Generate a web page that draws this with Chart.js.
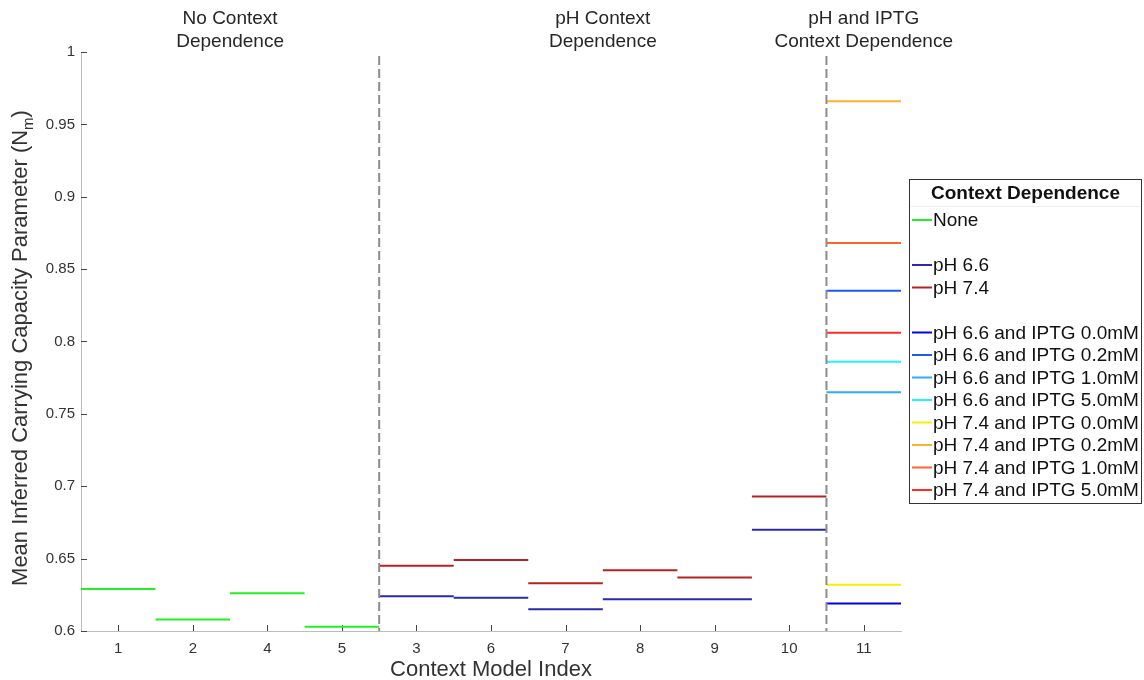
<!DOCTYPE html>
<html>
<head>
<meta charset="utf-8">
<script src="https://cdn.jsdelivr.net/npm/chart.js@4.4.0/dist/chart.umd.min.js"></script>
<style>
  html, body { margin: 0; padding: 0; background: #fff; }
  #wrap { width: 1144px; height: 680px; }
</style>
</head>
<body>
<div id="wrap"><canvas id="mycanvas" width="1144" height="680"></canvas></div>
<script>
// categories along the x axis, in plotted order
var categories = ['1', '2', '4', '5', '3', '6', '7', '8', '9', '10', '11'];

// groups of categories (size in categories) and their headings
var groupSizes = [4, 6, 1];
var groupTitles = [
  ['No Context', 'Dependence'],
  ['pH Context', 'Dependence'],
  ['pH and IPTG', 'Context Dependence']
];

var yTicks = [0.6, 0.65, 0.7, 0.75, 0.8, 0.85, 0.9, 0.95, 1];

// series values, one per category (null = not present)
var none      = [0.629, 0.608, 0.626, 0.603, null, null, null, null, null, null, null];
var ph66      = [null, null, null, null, 0.624, 0.623, 0.615, 0.622, 0.622, 0.670, null];
var ph74      = [null, null, null, null, 0.645, 0.649, 0.633, 0.642, 0.637, 0.693, null];
var ph66iptg0 = [null, null, null, null, null, null, null, null, null, null, 0.619];
var ph66iptg2 = [null, null, null, null, null, null, null, null, null, null, 0.835];
var ph66iptg10 = [null, null, null, null, null, null, null, null, null, null, 0.765];
var ph66iptg50 = [null, null, null, null, null, null, null, null, null, null, 0.786];
var ph74iptg0 = [null, null, null, null, null, null, null, null, null, null, 0.632];
var ph74iptg2 = [null, null, null, null, null, null, null, null, null, null, 0.966];
var ph74iptg10 = [null, null, null, null, null, null, null, null, null, null, 0.868];
var ph74iptg50 = [null, null, null, null, null, null, null, null, null, null, 0.806];

var seriesNames = ['None', 'pH 6.6', 'pH 7.4',
  'pH 6.6 and IPTG 0.0mM', 'pH 6.6 and IPTG 0.2mM', 'pH 6.6 and IPTG 1.0mM', 'pH 6.6 and IPTG 5.0mM',
  'pH 7.4 and IPTG 0.0mM', 'pH 7.4 and IPTG 0.2mM', 'pH 7.4 and IPTG 1.0mM', 'pH 7.4 and IPTG 5.0mM'];
var seriesValues = [none, ph66, ph74, ph66iptg0, ph66iptg2, ph66iptg10, ph66iptg50,
  ph74iptg0, ph74iptg2, ph74iptg10, ph74iptg50];
var seriesColors = ['#22f022', '#2a2aaa', '#b52222',
  '#0000f0', '#1c5cf0', '#30a8f8', '#20f4f4',
  '#f4f000', '#ffb030', '#ff6428', '#ff2a2a'];
// legend rows: index into series, or -1 for a blank row
var legendRows = [0, -1, 1, 2, -1, 3, 4, 5, 6, 7, 8, 9, 10];

var FONT = "'Liberation Sans', Arial, Helvetica, sans-serif";
Chart.defaults.font.family = FONT;
Chart.defaults.color = '#333';

// each value becomes a flat segment across its category
function segments(values) {
  var pts = [];
  for (var i = 0; i < values.length; i++) {
    if (values[i] === null) continue;
    var c = i + 1;
    pts.push({x: c - 0.5, y: values[i]});
    pts.push({x: c + 0.5, y: values[i]});
    pts.push({x: c + 0.5, y: null});
  }
  return pts;
}

var datasets = [];
for (var s = 0; s < seriesNames.length; s++) {
  datasets.push({
    label: seriesNames[s],
    data: segments(seriesValues[s]),
    borderColor: seriesColors[s],
    backgroundColor: seriesColors[s],
    borderWidth: 2,
    pointRadius: 0,
    spanGaps: false,
    tension: 0
  });
}

var decorations = {
  id: 'decorations',
  beforeDatasetsDraw: function(chart) {
    var ctx = chart.ctx, a = chart.chartArea;
    var xs = chart.scales.x, ys = chart.scales.y;
    ctx.save();
    // inward tick marks
    ctx.strokeStyle = '#444';
    ctx.lineWidth = 1;
    ctx.beginPath();
    yTicks.forEach(function(v) {
      var y = Math.round(ys.getPixelForValue(v)) + 0.5;
      ctx.moveTo(a.left, y); ctx.lineTo(a.left + 6, y);
    });
    categories.forEach(function(c, i) {
      var x = Math.round(xs.getPixelForValue(i + 1)) + 0.5;
      ctx.moveTo(x, a.bottom); ctx.lineTo(x, a.bottom - 6);
    });
    ctx.stroke();
    ctx.restore();
  },
  afterDatasetsDraw: function(chart) {
    var ctx = chart.ctx, a = chart.chartArea;
    var xs = chart.scales.x;
    ctx.save();
    // dashed separators between groups
    ctx.strokeStyle = '#8c8c8c';
    ctx.lineWidth = 2;
    ctx.setLineDash([9, 4]);
    var start = 0.5;
    for (var g = 0; g < groupSizes.length; g++) {
      var end = start + groupSizes[g];
      if (g < groupSizes.length - 1) {
        var x = xs.getPixelForValue(end);
        ctx.beginPath();
        ctx.moveTo(x, a.top + 4);
        ctx.lineTo(x, a.bottom);
        ctx.stroke();
      }
      // group heading
      var cx = xs.getPixelForValue((start + end) / 2);
      ctx.fillStyle = '#262626';
      ctx.font = '19px ' + FONT;
      ctx.textAlign = 'center';
      ctx.textBaseline = 'middle';
      ctx.fillText(groupTitles[g][0], cx, 19);
      ctx.fillText(groupTitles[g][1], cx, 42);
      start = end;
    }
    ctx.setLineDash([]);

    // x axis title
    ctx.fillStyle = '#333';
    ctx.font = '22px ' + FONT;
    ctx.textAlign = 'center';
    ctx.fillText('Context Model Index', (a.left + a.right) / 2, 670);

    // y axis title with subscript
    ctx.translate(21, 348);
    ctx.rotate(-Math.PI / 2);
    var main = 'Mean Inferred Carrying Capacity Parameter (N';
    ctx.font = '22px ' + FONT;
    var w1 = ctx.measureText(main).width;
    ctx.font = '15px ' + FONT;
    var w2 = ctx.measureText('m').width;
    ctx.font = '22px ' + FONT;
    var w3 = ctx.measureText(')').width;
    var x0 = -(w1 + w2 + w3) / 2;
    ctx.textAlign = 'left';
    ctx.fillText(main, x0, 0);
    ctx.font = '15px ' + FONT;
    ctx.fillText('m', x0 + w1, 8);
    ctx.font = '22px ' + FONT;
    ctx.fillText(')', x0 + w1 + w2, 0);
    ctx.restore();

    // legend box
    ctx.save();
    var lx = 909.5, ly = 179.5, lw = 232, lh = 324;
    ctx.fillStyle = '#fff';
    ctx.fillRect(lx, ly, lw, lh);
    ctx.strokeStyle = '#333';
    ctx.lineWidth = 1;
    ctx.strokeRect(lx, ly, lw, lh);
    ctx.fillStyle = '#111';
    ctx.font = 'bold 19px ' + FONT;
    ctx.textAlign = 'center';
    ctx.textBaseline = 'middle';
    ctx.fillText('Context Dependence', lx + lw / 2, 194);
    ctx.strokeStyle = '#eeeeee';
    ctx.beginPath();
    ctx.moveTo(lx + 1, 206.5); ctx.lineTo(lx + lw - 1, 206.5);
    ctx.stroke();
    ctx.font = '19px ' + FONT;
    ctx.textAlign = 'left';
    legendRows.forEach(function(si, r) {
      if (si < 0) return;
      var y = 220 + r * 22.5;
      ctx.strokeStyle = seriesColors[si];
      ctx.lineWidth = 2;
      ctx.beginPath();
      ctx.moveTo(912, y); ctx.lineTo(932, y);
      ctx.stroke();
      ctx.fillStyle = '#111';
      ctx.fillText(seriesNames[si], 933, y + 1);
    });
    ctx.restore();
  }
};

var ctx = document.getElementById('mycanvas');
var chart = new Chart(ctx, {
  type: 'line',
  data: { datasets: datasets },
  plugins: [decorations],
  options: {
    responsive: false,
    animation: false,
    layout: { padding: { top: 52, right: 243, left: 0, bottom: 0 } },
    plugins: { legend: { display: false }, tooltip: { enabled: false } },
    scales: {
      x: {
        type: 'linear',
        min: 0.5,
        max: categories.length + 0.5,
        afterBuildTicks: function(scale) {
          scale.ticks = categories.map(function(c, i) { return {value: i + 1}; });
        },
        afterFit: function(scale) { scale.height = 49; },
        ticks: {
          autoSkip: false,
          maxRotation: 0,
          padding: 9,
          color: '#333',
          font: { size: 15 },
          callback: function(v) { return categories[Math.round(v) - 1]; }
        },
        grid: { display: false, drawTicks: false },
        border: { display: true, color: '#bdbdbd', width: 1 }
      },
      y: {
        type: 'linear',
        min: 0.6,
        max: 1,
        afterBuildTicks: function(scale) {
          scale.ticks = yTicks.map(function(v) { return {value: v}; });
        },
        afterFit: function(scale) { scale.width = 81; },
        ticks: {
          padding: 6,
          color: '#333',
          font: { size: 15 },
          callback: function(v) { return String(+v.toFixed(2)); }
        },
        grid: { display: false, drawTicks: false },
        border: { display: true, color: '#bdbdbd', width: 1 }
      }
    }
  }
});
</script>
</body>
</html>
